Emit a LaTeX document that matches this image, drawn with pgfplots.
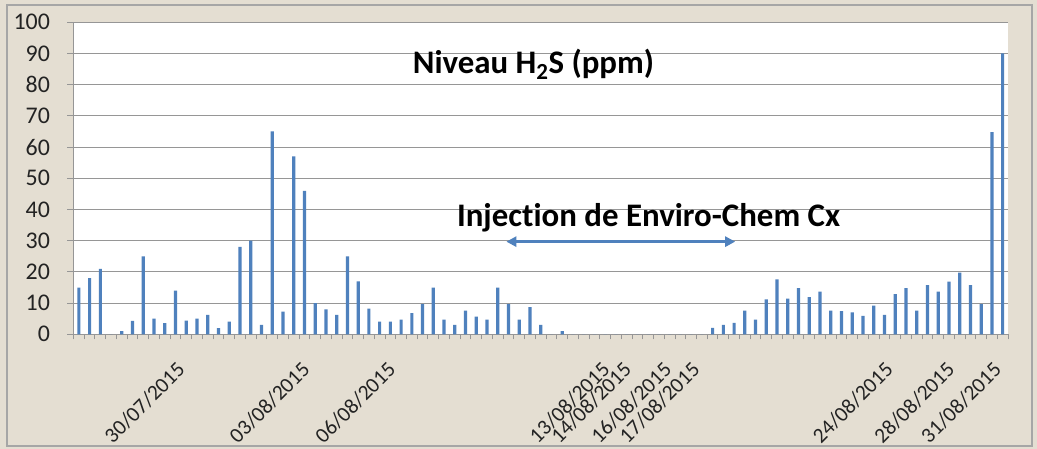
\documentclass[border=0pt]{standalone}
\usepackage{fontspec}
\setmainfont{Carlito}[Ligatures=NoCommon]
\usepackage{pgfplots}
\pgfplotsset{compat=1.18}
\usetikzlibrary{arrows.meta}
\definecolor{bg}{RGB}{228,222,210}
\definecolor{barblue}{RGB}{79,129,189}
\definecolor{gridgray}{RGB}{150,150,150}
\definecolor{txt}{RGB}{35,35,35}
\begin{document}
\begin{tikzpicture}[x=1bp,y=1bp]
\useasboundingbox (0,0) rectangle (1037,-449);
\fill[bg] (0,0) rectangle (1037,-449);
\draw[gray!70, line width=1.2bp] (7,-5) rectangle (1032,-446);
\begin{axis}[
  at={(73.5bp,-334.3bp)}, anchor=south west, scale only axis,
  width=934.5bp, height=312bp,
  xmin=-0.5, xmax=86.5, ymin=0, ymax=100,
  ybar, bar width=3.2bp,
  axis background/.style={fill=white},
  ytick={0,10,...,100},
  ymajorgrids, grid style={gridgray, line width=1.1bp},
  axis x line=bottom, axis y line=left,
  axis line style={-, draw=gridgray, line width=1.1bp},
  xtick={10.12,21.75,29.73,49.67,51.69,55.42,58.05,76.04,81.78,86.13},
  xticklabels={30/07/2015,03/08/2015,06/08/2015,13/08/2015,14/08/2015,16/08/2015,17/08/2015,24/08/2015,28/08/2015,31/08/2015},
  minor xtick={-0.5,0.5,...,86.5},
  tick align=outside,
  major tick length=6bp, minor tick length=5bp,
  xtick style={draw=none},
  ytick style={draw=gridgray, line width=1.1bp},
  minor x tick style={draw=gridgray, line width=1bp},
  xticklabel style={anchor=north east, xshift=-12bp, yshift=-20bp, rotate=45, font=\fontsize{21.5}{21.5}\selectfont, text=txt, inner sep=0pt},
  yticklabel style={font=\fontsize{24}{24}\selectfont, text=txt, xshift=-14bp},
  /pgf/number format/assume math mode=true,
]
\addplot[fill=barblue, draw=none] table[row sep=\\] {
x y\\
0 15\\ 1 18\\ 2 21\\ 3 0\\ 4 1\\ 5 4.3\\ 6 25\\ 7 5\\ 8 3.6\\ 9 14\\
10 4.4\\ 11 5\\ 12 6.2\\ 13 2\\ 14 4.1\\ 15 28\\ 16 30\\ 17 3\\ 18 65\\ 19 7.3\\
20 57\\ 21 46\\ 22 10\\ 23 8\\ 24 6.2\\ 25 25\\ 26 17\\ 27 8.2\\ 28 4.1\\ 29 4.1\\
30 4.7\\ 31 6.8\\ 32 9.7\\ 33 15\\ 34 4.7\\ 35 3\\ 36 7.6\\ 37 5.7\\ 38 4.7\\ 39 15\\
40 9.7\\ 41 4.7\\ 42 8.7\\ 43 3\\ 44 0\\ 45 1\\ 46 0\\ 47 0\\ 48 0\\ 49 0\\
50 0\\ 51 0\\ 52 0\\ 53 0\\ 54 0\\ 55 0\\ 56 0\\ 57 0\\ 58 0\\ 59 2.1\\
60 3\\ 61 3.7\\ 62 7.6\\ 63 4.7\\ 64 11.2\\ 65 17.6\\ 66 11.4\\ 67 14.8\\ 68 11.9\\ 69 13.7\\
70 7.6\\ 71 7.4\\ 72 7.0\\ 73 5.9\\ 74 9.2\\ 75 6.2\\ 76 12.9\\ 77 14.8\\ 78 7.6\\ 79 15.8\\
80 13.7\\ 81 16.9\\ 82 19.8\\ 83 15.8\\ 84 9.7\\ 85 64.8\\ 86 90\\
};
\node[font=\fontsize{33}{33}\selectfont\bfseries, anchor=base, text=black] at (axis cs:42.32,83.65) {Niveau H\textsubscript{2}S (ppm)};
\node[font=\fontsize{33}{33}\selectfont\bfseries, anchor=base, text=black] at (axis cs:53.04,34.5) {Injection de Enviro-Chem Cx};
\draw[barblue, line width=2.5bp, {Triangle[length=10bp,width=10bp]}-{Triangle[length=10bp,width=10bp]}] (axis cs:39.8,29.7) -- (axis cs:61.1,29.7);
\end{axis}
\end{tikzpicture}
\end{document}
